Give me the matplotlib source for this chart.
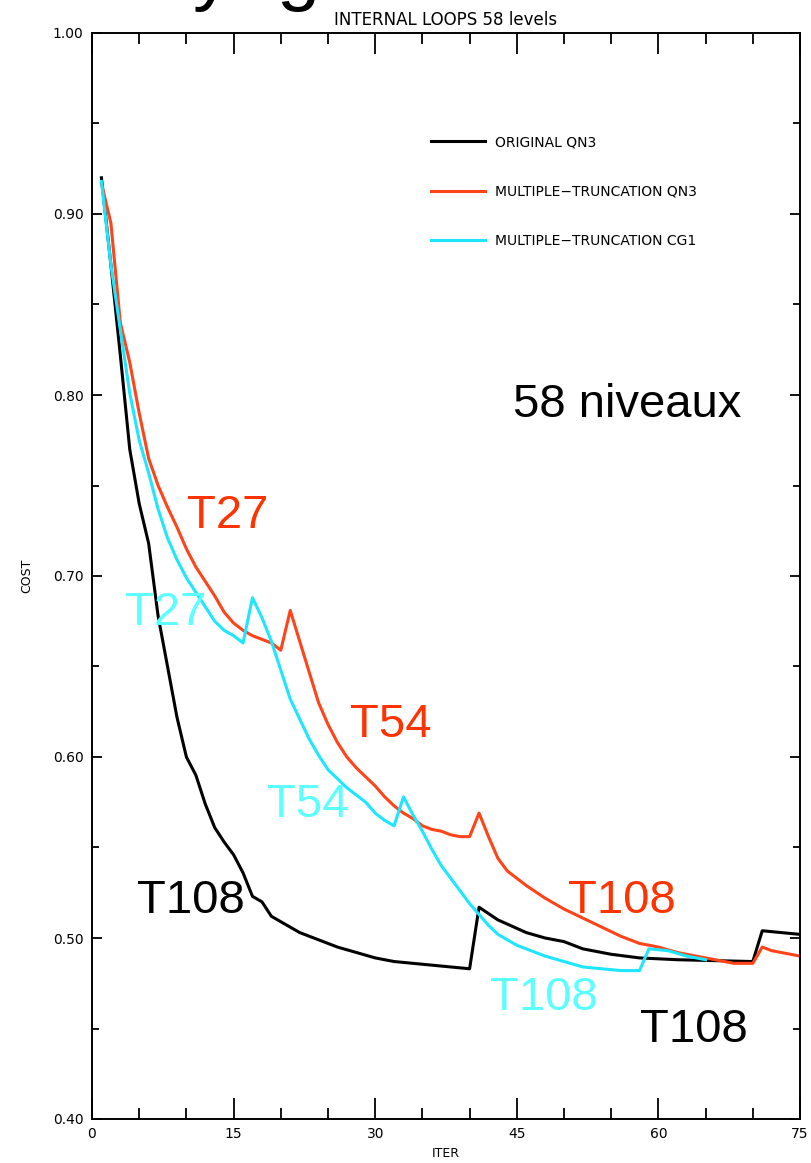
import matplotlib
matplotlib.use('Agg')
import matplotlib.pyplot as plt
from matplotlib.ticker import MultipleLocator

# iterations and cost values
it_orig = [1, 2, 3, 4, 5, 6, 7, 8, 9, 10, 11, 12, 13, 14, 15, 16, 17, 18, 19, 20,
           21, 22, 24, 26, 28, 30, 32, 34, 36, 38, 40, 41, 43, 46, 48, 50, 52, 55,
           58, 62, 66, 70, 71, 75]
cost_orig = [0.920, 0.872, 0.822, 0.770, 0.740, 0.718, 0.678, 0.650, 0.622, 0.600,
             0.590, 0.574, 0.561, 0.553, 0.546, 0.536, 0.523, 0.520, 0.512, 0.509,
             0.506, 0.503, 0.499, 0.495, 0.492, 0.489, 0.487, 0.486, 0.485, 0.484,
             0.483, 0.517, 0.510, 0.503, 0.500, 0.498, 0.494, 0.491, 0.489, 0.488,
             0.4875, 0.487, 0.504, 0.502]

it_qn3 = [1, 2, 3, 4, 5, 6, 7, 8, 9, 10, 11, 12, 13, 14, 15, 16, 17, 18, 19, 20,
          21, 22, 23, 24, 25, 26, 27, 28, 29, 30, 31, 32, 33, 34, 35, 36, 37, 38,
          39, 40, 41, 42, 43, 44, 46, 48, 50, 52, 54, 56, 58, 60, 62, 64, 66, 68,
          70, 71, 72, 75]
cost_qn3 = [0.917, 0.895, 0.840, 0.818, 0.790, 0.765, 0.750, 0.738, 0.727, 0.715,
            0.705, 0.697, 0.689, 0.680, 0.674, 0.670, 0.667, 0.665, 0.663, 0.659,
            0.681, 0.664, 0.647, 0.630, 0.618, 0.608, 0.600, 0.594, 0.589, 0.584,
            0.578, 0.573, 0.569, 0.566, 0.562, 0.560, 0.559, 0.557, 0.556, 0.556,
            0.569, 0.556, 0.544, 0.537, 0.529, 0.522, 0.516, 0.511, 0.506, 0.501,
            0.497, 0.495, 0.492, 0.490, 0.488, 0.486, 0.486, 0.495, 0.493, 0.490]

it_cg1 = [1, 2, 3, 4, 5, 6, 7, 8, 9, 10, 11, 12, 13, 14, 15, 16, 17, 18, 19, 20,
          21, 22, 23, 24, 25, 26, 27, 28, 29, 30, 31, 32, 33, 34, 35, 36, 37, 38,
          39, 40, 41, 42, 43, 44, 45, 46, 48, 50, 52, 54, 56, 58, 59, 61, 63, 65]
cost_cg1 = [0.918, 0.872, 0.836, 0.801, 0.775, 0.757, 0.737, 0.721, 0.709, 0.699,
            0.691, 0.683, 0.675, 0.670, 0.667, 0.663, 0.688, 0.677, 0.664, 0.648,
            0.632, 0.621, 0.610, 0.601, 0.593, 0.588, 0.583, 0.579, 0.575, 0.569,
            0.565, 0.562, 0.578, 0.568, 0.559, 0.549, 0.540, 0.533, 0.526, 0.519,
            0.513, 0.507, 0.502, 0.499, 0.496, 0.494, 0.490, 0.487, 0.484, 0.483,
            0.482, 0.482, 0.494, 0.493, 0.490, 0.488]

labels = ['ORIGINAL QN3', 'MULTIPLE\u2212TRUNCATION QN3', 'MULTIPLE\u2212TRUNCATION CG1']

RED = '#ff4419'
CYAN = '#1ee6ff'
RED_TXT = '#ff3300'
CYAN_TXT = '#5cffff'

fig = plt.figure(figsize=(8.12, 11.63), dpi=100)
ax = fig.add_axes([92 / 812, 1 - 1119 / 1163, 708 / 812, 1086 / 1163])

ax.plot(it_orig, cost_orig, color='black', lw=2.2, label=labels[0])
ax.plot(it_qn3, cost_qn3, color=RED, lw=2.2, label=labels[1])
ax.plot(it_cg1, cost_cg1, color=CYAN, lw=2.2, label=labels[2])

ax.set_xlim(0, 75)
ax.set_ylim(0.40, 1.00)
ax.xaxis.set_major_locator(MultipleLocator(15))
ax.xaxis.set_minor_locator(MultipleLocator(5))
ax.yaxis.set_major_locator(MultipleLocator(0.1))
ax.yaxis.set_minor_locator(MultipleLocator(0.05))
ax.yaxis.set_major_formatter(matplotlib.ticker.FormatStrFormatter('%.2f'))
ax.tick_params(axis='both', which='both', direction='in', top=True, right=True,
               labelsize=10, width=1.3)
ax.tick_params(axis='x', which='major', length=15, pad=6)
ax.tick_params(axis='x', which='minor', length=8)
ax.tick_params(axis='y', which='major', length=7, pad=6)
ax.tick_params(axis='y', which='minor', length=5)
for s in ax.spines.values():
    s.set_linewidth(1.4)

ax.set_title('INTERNAL LOOPS 58 levels', fontsize=12, pad=6)
ax.set_xlabel('ITER', fontsize=9, labelpad=4)
ax.set_ylabel('COST', fontsize=9, labelpad=14)

ax.legend(loc='upper left', bbox_to_anchor=(0.479, 0.906), frameon=False,
          fontsize=10, labelspacing=2.55, handlelength=3.9, handletextpad=0.7,
          borderpad=0, borderaxespad=0)

# slide annotations
big = dict(fontsize=34, family='Liberation Sans', ha='left', va='baseline')
ax.text(44.6, 0.788, '58 niveaux', color='black', **big)
ax.text(10.06, 0.7265, 'T27', color=RED_TXT, **big)
ax.text(3.5, 0.673, 'T27', color=CYAN_TXT, **big)
ax.text(27.3, 0.611, 'T54', color=RED_TXT, **big)
ax.text(18.5, 0.567, 'T54', color=CYAN_TXT, **big)
ax.text(4.77, 0.514, 'T108', color='black', **big)
ax.text(50.4, 0.514, 'T108', color=RED_TXT, **big)
ax.text(42.2, 0.460, 'T108', color=CYAN_TXT, **big)
ax.text(58.05, 0.4425, 'T108', color='black', **big)

# cut-off slide heading at the very top
fig.text(193 / 812, 1 + 4 / 1163, 'y', fontsize=56, family='Liberation Sans',
         ha='left', va='baseline')
fig.text(277 / 812, 1 + 4 / 1163, 'g', fontsize=56, family='Liberation Sans',
         ha='left', va='baseline')

fig.savefig('out.png', dpi=100)
